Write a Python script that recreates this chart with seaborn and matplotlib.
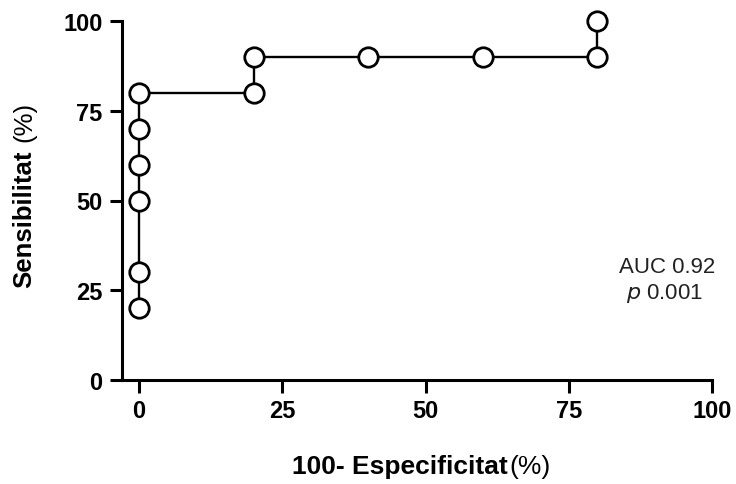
import matplotlib
matplotlib.use("Agg")
import matplotlib.pyplot as plt
import seaborn as sns
import pandas as pd

# ROC points (100 - specificity, sensitivity), in curve order
fpr = [0, 0, 0, 0, 0, 0, 20, 20, 40, 60, 80, 80]
tpr = [20, 30, 50, 60, 70, 80, 80, 90, 90, 90, 90, 100]
ticks = [0, 25, 50, 75, 100]

df = pd.DataFrame({"fpr": fpr, "tpr": tpr})

sns.set_style("ticks")
plt.rcParams["font.family"] = ["Liberation Sans", "DejaVu Sans"]
plt.rcParams["text.color"] = "black"
plt.rcParams["xtick.color"] = "black"
plt.rcParams["ytick.color"] = "black"
plt.rcParams["xtick.labelcolor"] = "black"
plt.rcParams["ytick.labelcolor"] = "black"

W, H = 736, 485
fig = plt.figure(figsize=(W / 100, H / 100), dpi=100)
ax = fig.add_axes([122 / W, 1 - 381 / H, (712 - 122) / W, (381 - 22) / H])

sns.lineplot(data=df, x="fpr", y="tpr", sort=False, estimator=None, ax=ax,
             color="black", lw=1.7, marker="o", markersize=14,
             markerfacecolor="white", markeredgecolor="black",
             markeredgewidth=2.0, clip_on=False, zorder=3)

ax.set_xlim(-3, 100)
ax.set_ylim(0, 100)
ax.set_xticks(ticks)
ax.set_yticks(ticks)
ax.set_xticklabels([str(t) for t in ticks], fontsize=17, fontweight="bold")
ax.set_yticklabels([str(t) for t in ticks], fontsize=17, fontweight="bold")
ax.tick_params(axis="both", length=9, width=2.2, color="black", pad=5,
               labelcolor="black")
for s in ["top", "right"]:
    ax.spines[s].set_visible(False)
for s in ["left", "bottom"]:
    ax.spines[s].set_linewidth(2.2)
    ax.spines[s].set_color("black")
ax.set_xlabel("")
ax.set_ylabel("")

ax.text(1.005, 0.315, "AUC 0.92", transform=ax.transAxes, ha="right",
        va="center", fontsize=16, color="#222222")
ax.text(0.985, 0.245, "$\\it{p}$ 0.001", transform=ax.transAxes, ha="right",
        va="center", fontsize=16, color="#222222")

# axis titles: bold part + normal "(%)"
fig.canvas.draw()
r = fig.canvas.get_renderer()

xb = fig.text(0, 0, "100- Especificitat", fontsize=19, fontweight="bold",
              ha="left", va="center")
xn = fig.text(0, 0, "(%)", fontsize=19, ha="left", va="center")
bb = xb.get_window_extent(r)
bn = xn.get_window_extent(r)
total = bb.width + 2 + bn.width
x0 = (421 - total / 2)
yc = 1 - 467 / H
xb.set_position((x0 / W, yc))
xn.set_position(((x0 + bb.width + 2) / W, yc))

yb = fig.text(0, 0, "Sensibilitat", fontsize=18.5, fontweight="bold",
              rotation=90, ha="center", va="bottom")
yn = fig.text(0, 0, "(%)", fontsize=18.5, rotation=90, ha="center", va="bottom")
bb = yb.get_window_extent(r)
bn = yn.get_window_extent(r)
total = bb.height + 8 + bn.height
y0 = (H - 195) - total / 2
yb.set_position((24 / W, y0 / H))
yn.set_position((24 / W, (y0 + bb.height + 8) / H))

fig.savefig("out.png", dpi=100)
